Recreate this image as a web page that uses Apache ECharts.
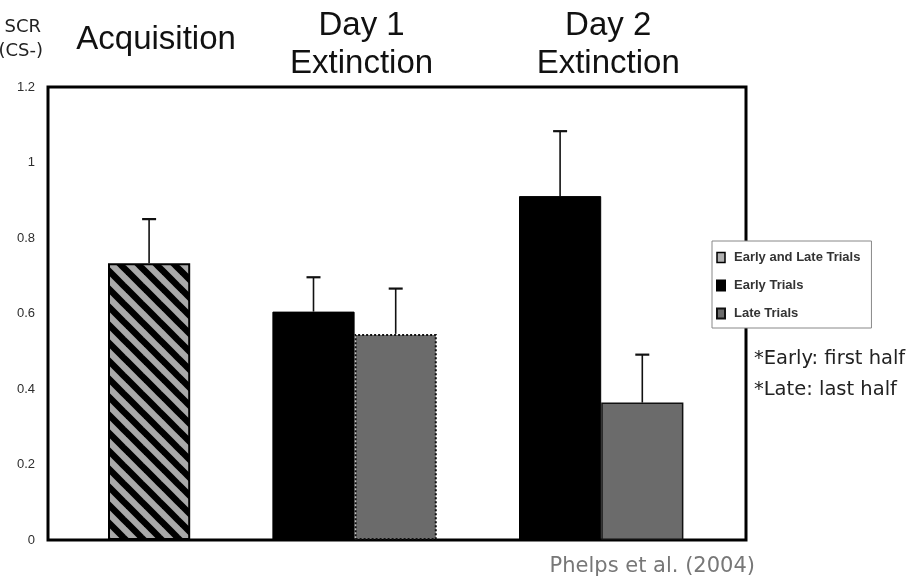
<!DOCTYPE html>
<html><head><meta charset="utf-8">
<script src="https://cdn.jsdelivr.net/npm/echarts@6/dist/echarts.min.js"></script>
<style>html,body{margin:0;padding:0;background:#fff}#c{width:914px;height:579px}</style>
</head><body><div id="c"></div>
<script>
// ---- data ----
const groups = ['Acquisition', 'Day 1\nExtinction', 'Day 2\nExtinction'];
const seriesNames = ['Early and Late Trials', 'Early Trials', 'Late Trials'];
const acqMean = [0.733];
const acqUpper = [0.85];
const earlyMean = [0.605, 0.911];   // Day 1, Day 2
const earlyUpper = [0.696, 1.083];
const lateMean = [0.546, 0.364];    // Day 1, Day 2
const lateUpper = [0.666, 0.491];
const yTicks = [0, 0.2, 0.4, 0.6, 0.8, 1, 1.2];
const notes = ['*Early: first half', '*Late: last half'];
const yTitle = ['SCR', '(CS-)'];
const source = 'Phelps et al. (2004)';

// ---- layout of slots: acquisition | gap | d1 early | d1 late | gap | d2 early | d2 late ----
const slotCount = 7;
const slots = Array.from({length: slotCount}, (_, i) => String(i));
const acqData = Array(slotCount).fill(null);
const earlyData = Array(slotCount).fill(null);
const lateData = Array(slotCount).fill(null);
const errData = [];
acqData[0] = acqMean[0];
errData.push([0, acqMean[0], acqUpper[0]]);
const groupSlots = [[0]];
for (let d = 0; d < earlyMean.length; d++) {
  const s = 2 + d * 3;
  earlyData[s] = earlyMean[d];
  lateData[s + 1] = {value: lateMean[d], itemStyle: {borderType: d === 0 ? 'dotted' : 'solid', borderWidth: d === 0 ? 2 : 1.5}};
  errData.push([s, earlyMean[d], earlyUpper[d]]);
  errData.push([s + 1, lateMean[d], lateUpper[d]]);
  groupSlots.push([s, s + 1]);
}

// hatch pattern (seamless diagonal stripes)
const P = 18;
const pc = document.createElement('canvas');
pc.width = P; pc.height = P;
const g = pc.getContext('2d');
g.fillStyle = '#a9a9a9'; g.fillRect(0, 0, P, P);
g.strokeStyle = '#000'; g.lineWidth = 6.5;
for (let k = -2; k <= 2; k++) { g.beginPath(); g.moveTo(k * P - P, -P); g.lineTo(k * P + 2 * P, 2 * P); g.stroke(); }

const chart = echarts.init(document.getElementById('c'));
const FONT = 'Liberation Sans, Arial, sans-serif';
const SANS2 = '"DejaVu Sans", sans-serif';
const gridTop = 87, gridBottom = 39;

chart.setOption({
  animation: false,
  backgroundColor: '#fff',
  grid: [
    {left: 48, right: 168, top: gridTop, bottom: gridBottom, show: true, borderColor: '#000', borderWidth: 3, backgroundColor: 'transparent'},
    {left: 108, right: 914 - 108 - 82.2 * slotCount, top: gridTop, bottom: gridBottom}
  ],
  xAxis: [
    {gridIndex: 0, type: 'value', show: false, min: 0, max: 1},
    {gridIndex: 1, type: 'category', data: slots, show: false, boundaryGap: true}
  ],
  yAxis: [
    {gridIndex: 0, type: 'value', min: yTicks[0], max: yTicks[yTicks.length - 1], interval: 0.2,
     axisLine: {show: false}, axisTick: {show: false}, splitLine: {show: false},
     axisLabel: {margin: 13, color: '#2e2e2e', fontSize: 13, fontFamily: FONT,
       formatter: v => String(+v.toFixed(1))}},
    {gridIndex: 1, type: 'value', min: yTicks[0], max: yTicks[yTicks.length - 1], show: false, splitLine: {show: false}}
  ],
  legend: {
    orient: 'vertical', left: 712, top: 241,
    data: [
      {name: seriesNames[0], icon: 'rect', itemStyle: {color: '#b0b0b0', borderColor: '#000', borderWidth: 1.5}},
      {name: seriesNames[1], icon: 'rect'},
      {name: seriesNames[2], icon: 'rect'}
    ],
    itemWidth: 8, itemHeight: 10, itemGap: 15,
    padding: [10, 11, 8, 4],
    borderColor: '#888', borderWidth: 1, backgroundColor: '#fff',
    textStyle: {fontFamily: FONT, fontSize: 13, fontWeight: 'bold', color: '#333', padding: [0, 0, 0, 4]}
  },
  series: [
    {name: seriesNames[0], type: 'bar', xAxisIndex: 1, yAxisIndex: 1, stack: 'all', data: acqData,
     barCategoryGap: '0%', barWidth: '100%',
     itemStyle: {color: {image: pc, repeat: 'repeat'}, borderColor: '#000', borderWidth: 2}},
    {name: seriesNames[1], type: 'bar', xAxisIndex: 1, yAxisIndex: 1, stack: 'all', data: earlyData,
     barCategoryGap: '0%', barWidth: '100%',
     itemStyle: {color: '#000', borderColor: '#000', borderWidth: 1}},
    {name: seriesNames[2], type: 'bar', xAxisIndex: 1, yAxisIndex: 1, stack: 'all', data: lateData,
     barCategoryGap: '0%', barWidth: '100%',
     itemStyle: {color: '#6b6b6b', borderColor: '#111', borderWidth: 1.5}},
    {type: 'custom', xAxisIndex: 1, yAxisIndex: 1, data: errData, z: 5,
     renderItem: (params, api) => {
       const x = api.value(0);
       const p0 = api.coord([x, api.value(1)]);
       const p1 = api.coord([x, api.value(2)]);
       return {type: 'group', children: [
         {type: 'line', shape: {x1: p0[0], y1: p0[1], x2: p1[0], y2: p1[1]}, style: {stroke: '#111', lineWidth: 1.6}},
         {type: 'line', shape: {x1: p1[0] - 7, y1: p1[1], x2: p1[0] + 7, y2: p1[1]}, style: {stroke: '#111', lineWidth: 2.2}}
       ]};
     }}
  ]
});

// group titles placed from axis coordinates
const graphics = [];
groupSlots.forEach((sl, i) => {
  const xs = sl.map(s => chart.convertToPixel({xAxisIndex: 1}, s));
  const cx = (Math.min(...xs) + Math.max(...xs)) / 2 + 7;
  const twoLine = groups[i].indexOf('\n') >= 0;
  graphics.push({type: 'text', x: cx, y: twoLine ? 45 : 40, z: 10,
    style: {text: groups[i], font: '33px ' + FONT, fill: '#111', textAlign: 'center', textVerticalAlign: 'middle', lineHeight: 38}});
});
graphics.push({type: 'text', x: 41, y: 27, style: {text: yTitle[0], font: '18px ' + SANS2, fill: '#222', textAlign: 'right', textVerticalAlign: 'middle'}});
graphics.push({type: 'text', x: 43, y: 51, style: {text: yTitle[1], font: '18px ' + SANS2, fill: '#222', textAlign: 'right', textVerticalAlign: 'middle'}});
graphics.push({type: 'text', x: 754, y: 359, style: {text: notes[0], font: '19.5px ' + SANS2, fill: '#222', textAlign: 'left', textVerticalAlign: 'middle'}});
graphics.push({type: 'text', x: 754, y: 390, style: {text: notes[1], font: '19.5px ' + SANS2, fill: '#222', textAlign: 'left', textVerticalAlign: 'middle'}});
graphics.push({type: 'text', x: 755, y: 567, style: {text: source, font: '21px ' + SANS2, fill: '#777', textAlign: 'right', textVerticalAlign: 'middle'}});
chart.setOption({graphic: graphics});
</script>
</body></html>
